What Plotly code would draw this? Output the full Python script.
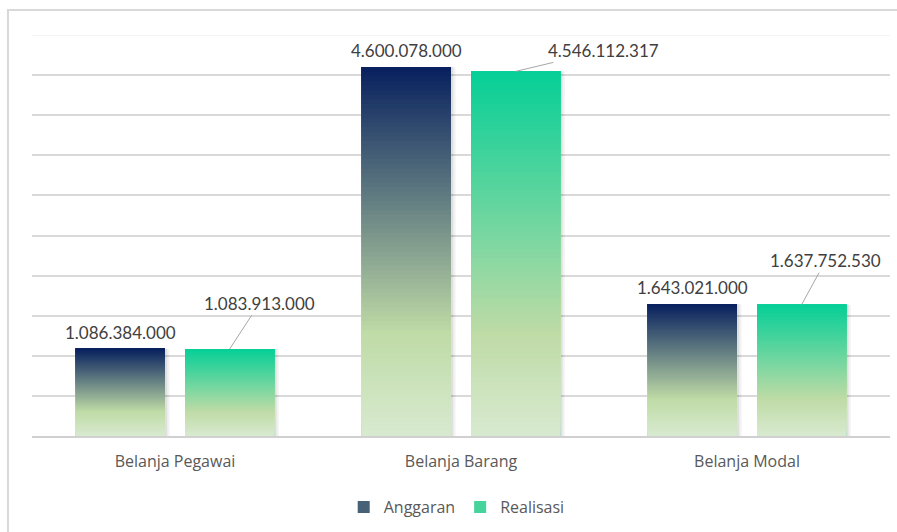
import plotly.graph_objects as go

categories = ["Belanja Pegawai", "Belanja Barang", "Belanja Modal"]
anggaran = [1086384000, 4600078000, 1643021000]
realisasi = [1083913000, 4546112317, 1637752530]
series_names = ["Anggaran", "Realisasi"]

# gradient stops (top -> bottom of each bar)
grad_anggaran = [(0.0, (7, 32, 94)), (0.72, (191, 219, 166)), (1.0, (216, 234, 208))]
grad_realisasi = [(0.0, (5, 207, 151)), (0.72, (191, 219, 166)), (1.0, (216, 234, 208))]

N_SEG = 80
BAR_W = 0.312
OFF_A = -0.347
OFF_R = 0.035
FONT = "Lato, Open Sans, sans-serif"
FONT2 = "Open Sans, Lato, sans-serif"


def fmt(v):
    return f"{v:,}".replace(",", ".")


def grad_color(stops, t):
    for (t0, c0), (t1, c1) in zip(stops[:-1], stops[1:]):
        if t0 <= t <= t1:
            f = (t - t0) / (t1 - t0) if t1 > t0 else 0
            c = [round(a + (b - a) * f) for a, b in zip(c0, c1)]
            return f"rgb({c[0]},{c[1]},{c[2]})"
    c = stops[-1][1]
    return f"rgb({c[0]},{c[1]},{c[2]})"


def gradient_trace(values, stops, offset):
    # each segment runs from its base up to the bar top; later (higher) segments
    # are drawn over earlier ones, so no seams appear between segments
    xs, ys, bases, cols = [], [], [], []
    for k in range(N_SEG):
        t_from_top = 1 - (k + 0.5) / N_SEG
        for cat, v in zip(categories, values):
            xs.append(cat)
            bases.append(v * k / N_SEG)
            ys.append(v - v * k / N_SEG)
            cols.append(grad_color(stops, t_from_top))
    return go.Bar(
        x=xs, y=ys, base=bases, offset=offset, width=BAR_W,
        marker=dict(color=cols, line=dict(width=0)), hoverinfo="skip",
        showlegend=False,
    )


def legend_trace(name, values, stops, offset):
    return go.Bar(
        name=name, x=categories, y=values, offset=offset, width=BAR_W,
        marker=dict(color=grad_color(stops, 0.25), line=dict(width=0)),
        hoverinfo="skip",
    )


def shadow_trace(values, offset, shift, alpha):
    return go.Bar(
        x=categories, y=values, offset=offset + shift, width=BAR_W,
        marker=dict(color=f"rgba(0,0,0,{alpha})", line=dict(width=0)),
        showlegend=False, hoverinfo="skip",
    )


fig = go.Figure()
for vals, off in ((anggaran, OFF_A), (realisasi, OFF_R)):
    fig.add_trace(shadow_trace(vals, off, 0.016, 0.05))
    fig.add_trace(shadow_trace(vals, off, 0.008, 0.08))
fig.add_trace(legend_trace(series_names[0], anggaran, grad_anggaran, OFF_A))
fig.add_trace(legend_trace(series_names[1], realisasi, grad_realisasi, OFF_R))
fig.add_trace(gradient_trace(anggaran, grad_anggaran, OFF_A))
fig.add_trace(gradient_trace(realisasi, grad_realisasi, OFF_R))

annotations = []
label_font = dict(family=FONT, size=17, color="#404040")
for i, v in enumerate(anggaran):
    annotations.append(dict(
        x=i + OFF_A + BAR_W / 2, y=v, xref="x", yref="y", text=fmt(v),
        showarrow=False, yanchor="bottom", yshift=4, font=label_font,
    ))
label_offsets = [(30, -46), (88, -21), (24, -44)]
for i, v in enumerate(realisasi):
    ax, ay = label_offsets[i]
    annotations.append(dict(
        x=i + OFF_R + BAR_W / 2, y=v, xref="x", yref="y", text=fmt(v),
        showarrow=True, arrowhead=0, arrowwidth=1, arrowcolor="#a6a6a6",
        ax=ax, ay=ay, font=label_font,
    ))

fig.update_layout(
    width=897, height=532,
    margin=dict(l=32, r=7, t=35, b=96),
    paper_bgcolor="white", plot_bgcolor="white",
    barmode="overlay",
    showlegend=True,
    legend=dict(
        orientation="h", x=0.495, xanchor="center", y=-0.177, yanchor="middle",
        font=dict(family=FONT2, size=16, color="#595959"),
        itemclick=False, traceorder="normal",
    ),
    annotations=annotations,
    shapes=[
        dict(type="rect", xref="paper", yref="paper",
             x0=-0.028, x1=1.2, y0=-0.4, y1=1.0623,
             line=dict(color="#d9d9d9", width=2), layer="below"),
        dict(type="line", xref="paper", yref="y", x0=0, x1=1, y0=5e9, y1=5e9,
             line=dict(color="#f0f0f0", width=1.5), layer="below"),
    ],
    xaxis=dict(
        type="category", range=[-0.5, 2.5], showgrid=False,
        showline=True, linecolor="#d0d0d0", linewidth=2,
        ticks="outside", ticklen=10, tickcolor="rgba(0,0,0,0)",
        tickfont=dict(family=FONT2, size=16, color="#595959"),
    ),
    yaxis=dict(
        range=[0, 5e9], tickvals=[i * 5e8 for i in range(1, 10)],
        showticklabels=False, showgrid=True, gridcolor="#d9d9d9", gridwidth=1.5,
        zeroline=False, showline=False, fixedrange=True,
    ),
)

fig.write_html("out.html")
